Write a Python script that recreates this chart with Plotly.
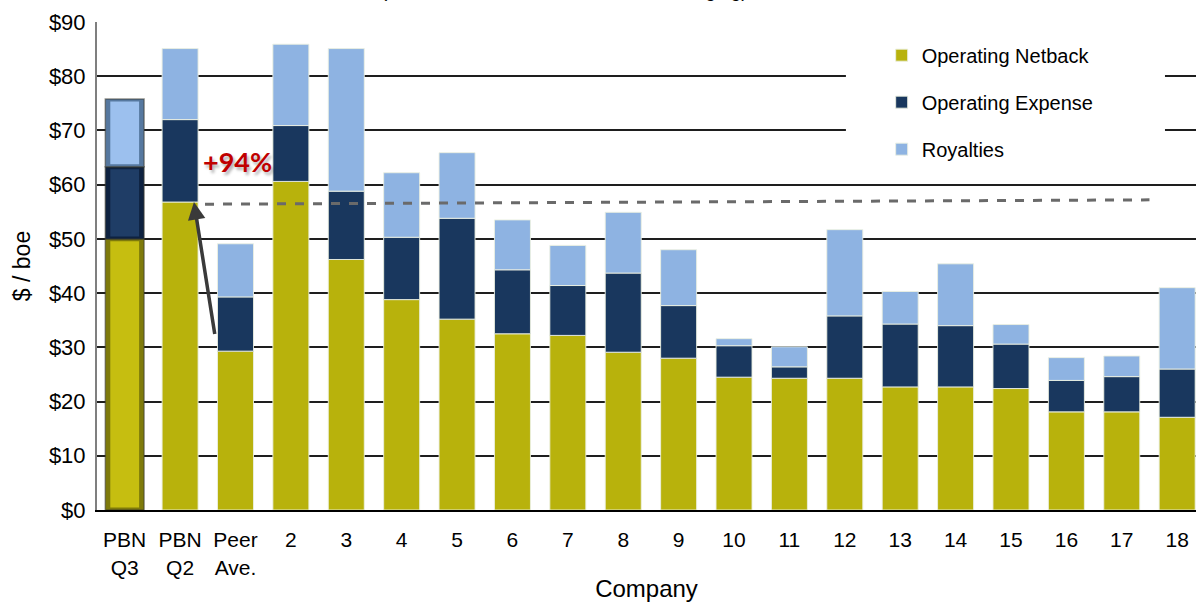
import plotly.graph_objects as go

# Company categories along the x axis
categories = ["PBN<br>Q3", "PBN<br>Q2", "Peer<br>Ave.", "2", "3", "4", "5", "6", "7", "8",
              "9", "10", "11", "12", "13", "14", "15", "16", "17", "18"]

# $/boe components for each company
netback = [50.0, 56.8, 29.3, 60.6, 46.2, 38.8, 35.2, 32.5, 32.2, 29.1,
           28.0, 24.5, 24.3, 24.3, 22.7, 22.7, 22.4, 18.1, 18.1, 17.1]
opex = [13.3, 15.2, 10.0, 10.3, 12.6, 11.5, 18.6, 11.8, 9.2, 14.6,
        9.7, 5.8, 2.1, 11.5, 11.6, 11.3, 8.2, 5.8, 6.5, 8.9]
royalties = [12.5, 13.1, 9.8, 15.0, 26.3, 11.9, 12.1, 9.2, 7.4, 11.2,
             10.3, 1.3, 3.7, 15.9, 6.0, 11.4, 3.6, 4.2, 3.8, 15.0]

# Reference line drawn across the peers (start / end level, $/boe)
ref_line = [56.4, 57.2]
# Uplift label from peer average to PBN Q2
uplift_label = "+94%"

NB_COL = "#B8B20C"
OPEX_COL = "#19375E"
ROY_COL = "#8EB3E2"
FONT = "Liberation Sans, Arial, sans-serif"

opex_base = netback
roy_base = [n + o for n, o in zip(netback, opex)]

fig = go.Figure()

edge = dict(color="rgba(235,240,225,0.9)", width=1)

# Regular companies (PBN Q2 onward)
fig.add_trace(go.Bar(x=categories[1:], y=netback[1:], base=[0] * 19, name="Operating Netback",
                     marker=dict(color=NB_COL, line=edge), width=0.65,
                     legendgroup="nb"))
fig.add_trace(go.Bar(x=categories[1:], y=opex[1:], base=opex_base[1:], name="Operating Expense",
                     marker=dict(color=OPEX_COL, line=edge), width=0.65,
                     legendgroup="op"))
fig.add_trace(go.Bar(x=categories[1:], y=royalties[1:], base=roy_base[1:], name="Royalties",
                     marker=dict(color=ROY_COL, line=edge), width=0.65,
                     legendgroup="roy"))

# PBN Q3 drawn as a bevelled bar: dark outer frame plus a lighter inner face
outer_cols = ["#7E7A0B", "#0E2240", "#56789F"]
inner_cols = ["#C6BE10", "#1F3D66", "#9CC0EE"]
segs = [(netback, [0] * 20), (opex, opex_base), (royalties, roy_base)]
for (vals, base), oc, ic in zip(segs, outer_cols, inner_cols):
    fig.add_trace(go.Bar(x=categories[:1], y=vals[:1], base=base[:1], width=0.7,
                         marker=dict(color=oc, line=dict(color="rgba(60,60,50,0.55)", width=1.5)),
                         showlegend=False, hoverinfo="skip"))
    fig.add_trace(go.Bar(x=categories[:1], y=[vals[0] - 0.9], base=[base[0] + 0.45], width=0.52,
                         marker=dict(color=ic, line=dict(width=0)),
                         showlegend=False, hoverinfo="skip"))

# White panel behind the legend (interrupts the gridlines)
fig.add_shape(type="rect", xref="x", yref="y", x0=13.02, x1=18.78, y0=62.4, y1=87.6,
              fillcolor="white", line=dict(width=0), layer="between")

# Dashed reference line from PBN Q2 across the peer group
fig.add_shape(type="line", xref="x", yref="y", x0=1.45, x1=18.5, y0=ref_line[0], y1=ref_line[1],
              line=dict(color="#6A6A6A", width=3, dash="dash"), layer="above")

# Arrow from peer average up to PBN Q2 netback
fig.add_annotation(x=1.25, y=netback[1], ax=1.63, ay=32.2, xref="x", yref="y",
                   axref="x", ayref="y", text="", showarrow=True,
                   arrowhead=2, arrowsize=1.0, arrowwidth=3.5, arrowcolor="#3A3A3A")
fig.add_annotation(x=2.03, y=64.2, xref="x", yref="y", text="<b>" + uplift_label + "</b>",
                   showarrow=False,
                   font=dict(family="Lato, Open Sans, sans-serif", size=27, color="#C00000",
                             shadow="2px 3px 3px rgba(0,0,0,0.3)"))

# Chart subtitle sitting at the very top edge
fig.add_annotation(x=0.425, y=1.039, xref="paper", yref="paper", yanchor="bottom",
                   text="(Field Netback Breakdown, before hedging)", showarrow=False,
                   font=dict(family=FONT, size=19, color="black"))

fig.update_layout(
    width=1196, height=603,
    barmode="overlay",
    plot_bgcolor="white", paper_bgcolor="white",
    margin=dict(l=97, r=0, t=22, b=93),
    font=dict(family=FONT, color="black"),
    legend=dict(x=0.714, y=0.972, xanchor="left", yanchor="top",
                traceorder="grouped", tracegroupgap=18,
                bgcolor="rgba(0,0,0,0)", font=dict(family=FONT, size=20, color="black")),
    xaxis=dict(type="category", categoryorder="array", categoryarray=categories,
               range=[-0.5, 19.34], showgrid=False,
               showline=True, linecolor="black", linewidth=2,
               tickfont=dict(family=FONT, size=21, color="black"), ticks="",
               ticklabelstandoff=10,
               title=dict(text="Company", font=dict(family=FONT, size=24, color="black"),
                          standoff=3)),
    yaxis=dict(range=[0, 90], dtick=10, tickprefix="$", showgrid=True,
               gridcolor="#1E1E1E", gridwidth=1.5, zeroline=False,
               showline=True, linecolor="#7F7F7F", linewidth=2, ticks="",
               ticklabelstandoff=5,
               tickfont=dict(family=FONT, size=22, color="black"),
               title=dict(text="$ / boe", font=dict(family=FONT, size=23, color="black"),
                          standoff=12)),
)

fig.write_html("out.html")
